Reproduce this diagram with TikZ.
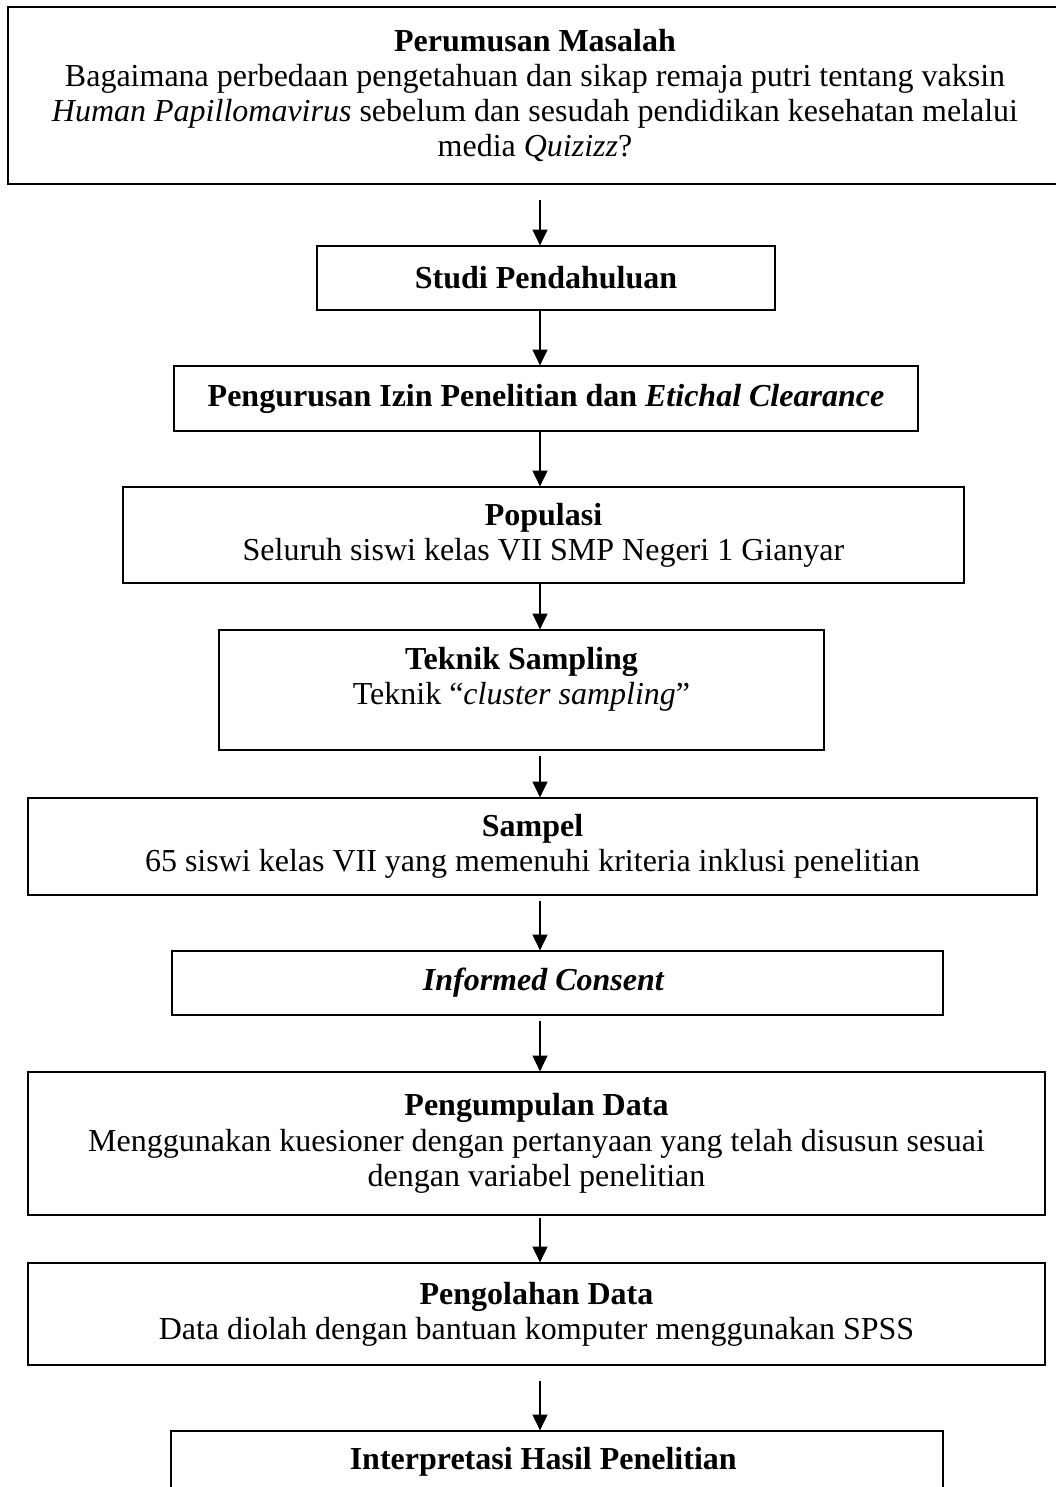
\documentclass[tikz,border=0pt]{standalone}
\usepackage{fontspec}
\setmainfont{Liberation Serif}
\usetikzlibrary{positioning, arrows.meta}

\begin{document}
\begin{tikzpicture}[
      x=0.4pt, y=-0.4pt,
      every node/.style={font=\fontsize{12.8}{14.1}\selectfont},
      block/.style={draw, line width=0.5pt, align=center, inner sep=0pt},
      arr/.style={-{Triangle[width=6pt, length=6.3pt]}, line width=0.45pt},
    ]
    \useasboundingbox (0,0) rectangle (1055,1487);
    \coordinate (ax) at (540, 0);

    \node[block, minimum width=421.6pt, minimum height=70.8pt] (rm)  at (535, 95.5)
      {\textbf{Perumusan Masalah}\\
       Bagaimana perbedaan pengetahuan dan sikap remaja putri tentang vaksin\\
       \textit{Human Papillomavirus} sebelum dan sesudah pendidikan kesehatan melalui\\
       media \textit{Quizizz}?};
    \node[block, minimum width=183.2pt, minimum height=25.6pt] (sp)  at (546, 278)
      {\textbf{Studi Pendahuluan}};
    \node[block, minimum width=297.6pt, minimum height=26pt]   (izn) at (546, 398.5)
      {\textbf{Pengurusan Izin Penelitian dan \textit{Etichal Clearance}}};
    \node[block, minimum width=336.4pt, minimum height=38.4pt] (pop) at (543.5, 535)
      {\textbf{Populasi}\\ Seluruh siswi kelas VII SMP Negeri 1 Gianyar};
    \node[block, minimum width=242pt,   minimum height=48pt]   (tek) at (521.5, 690)
      {\textbf{Teknik Sampling}\\ Teknik “\textit{cluster sampling}”\\[-3pt]};
    \node[block, minimum width=403.6pt, minimum height=38.8pt] (smp) at (532.5, 846.5)
      {\textbf{Sampel}\\ 65 siswi kelas VII yang memenuhi kriteria inklusi penelitian};
    \node[block, minimum width=308.4pt, minimum height=25.6pt] (ic)  at (557.5, 983)
      {\textbf{\textit{Informed Consent}}\hspace*{11pt}};
    \node[block, minimum width=406.8pt, minimum height=57.2pt] (pgd) at (536.5, 1143.5)
      {\textbf{Pengumpulan Data}\\
       Menggunakan kuesioner dengan pertanyaan yang telah disusun sesuai\\
       dengan variabel penelitian};
    \node[block, minimum width=406.8pt, minimum height=40.8pt] (pld) at (536.5, 1314)
      {\textbf{Pengolahan Data}\\ Data diolah dengan bantuan komputer menggunakan SPSS};
    \node[block, minimum width=308.8pt, minimum height=24.8pt] (ih)  at (557, 1462)
      {\textbf{Interpretasi Hasil Penelitian}\hspace*{11pt}};

    % alur
    \draw[arr] (rm.south -| ax) ++(0,-6pt) -- (sp.north -| ax);
    \draw[arr] (sp.south -| ax) -- (izn.north -| ax);
    \draw[arr] (izn.south -| ax) -- (pop.north -| ax);
    \draw[arr] (pop.south -| ax) -- (tek.north -| ax);
    \draw[arr] (tek.south -| ax) ++(0,-2pt) -- (smp.north -| ax);
    \draw[arr] (smp.south -| ax) ++(0,-2pt) -- (ic.north -| ax);
    \draw[arr] (ic.south -| ax) ++(0,-2pt) -- (pgd.north -| ax);
    \draw[arr] (pgd.south -| ax) ++(0,-1pt) -- (pld.north -| ax);
    \draw[arr] (pld.south -| ax) ++(0,-6pt) -- (ih.north -| ax);
  \end{tikzpicture}
\end{document}
